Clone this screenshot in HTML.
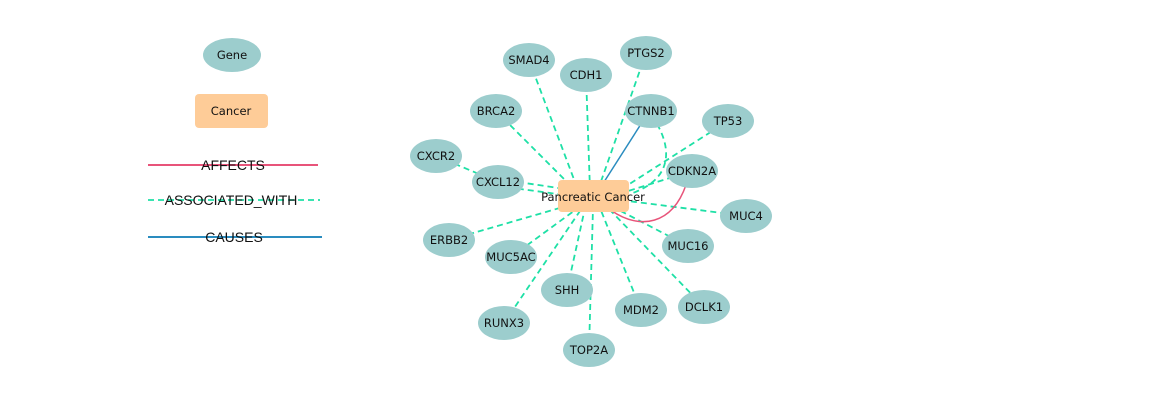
<!DOCTYPE html>
<html><head><meta charset="utf-8"><style>
html,body{margin:0;padding:0;background:#fff;}
svg{display:block;font-family:"DejaVu Sans","Liberation Sans",sans-serif;}
.n{fill:#9ccdcd;}
.t{font-size:11.5px;fill:#111;text-anchor:middle;dominant-baseline:central;}
.d{stroke:#1ee0a6;stroke-width:1.8;stroke-dasharray:6,4;fill:none;}
.lg{font-size:14px;fill:#111;text-anchor:middle;dominant-baseline:central;font-family:"Liberation Sans",sans-serif;}
</style></head><body>
<svg width="1159" height="410" viewBox="0 0 1159 410">
<rect width="1159" height="410" fill="#fff"/>
<ellipse class="n" cx="232" cy="55" rx="29" ry="17"/>
<text class="t" x="232" y="55">Gene</text>
<rect x="195" y="94" width="73" height="34" rx="4" fill="#fecc98"/>
<text class="t" x="231" y="111">Cancer</text>
<line x1="148" y1="165" x2="318" y2="165" stroke="#e8547a" stroke-width="2"/>
<text class="lg" x="233" y="165">AFFECTS</text>
<line x1="148" y1="200" x2="320" y2="200" class="d" stroke-width="2"/>
<text class="lg" x="231" y="200">ASSOCIATED_WITH</text>
<line x1="148" y1="237" x2="322" y2="237" stroke="#2a8cbf" stroke-width="2"/>
<text class="lg" x="234" y="237">CAUSES</text>
<g class="d">
<line x1="529" y1="60" x2="578" y2="190"/>
<line x1="586" y1="75" x2="590" y2="190"/>
<line x1="646" y1="53" x2="598" y2="190"/>
<line x1="496" y1="111" x2="575" y2="190"/>
<line x1="728" y1="121" x2="620" y2="190"/>
<line x1="436" y1="156" x2="498" y2="182"/>
<line x1="498" y1="179" x2="565" y2="189"/>
<line x1="498" y1="186" x2="565" y2="195"/>
<line x1="692" y1="171" x2="625" y2="192"/>
<line x1="746" y1="216" x2="620" y2="200"/>
<line x1="449" y1="240" x2="570" y2="205"/>
<line x1="511" y1="257" x2="578" y2="208"/>
<line x1="688" y1="246" x2="615" y2="208"/>
<line x1="567" y1="290" x2="585" y2="208"/>
<line x1="641" y1="310" x2="600" y2="208"/>
<line x1="704" y1="307" x2="608" y2="208"/>
<line x1="504" y1="323" x2="582" y2="208"/>
<line x1="589" y1="350" x2="593" y2="208"/>
<path d="M657,124 C672,150 672,180 630,194"/>
</g>
<line x1="641" y1="124" x2="604" y2="182" stroke="#2a8cbf" stroke-width="1.5"/>
<path d="M686,185 C672,225 640,230 612,211" stroke="#e8547a" stroke-width="1.5" fill="none"/>
<rect x="558" y="180" width="71" height="32" rx="4" fill="#fecc98"/>
<text class="t" x="593" y="197">Pancreatic Cancer</text>
<g>
<ellipse class="n" cx="529" cy="60" rx="26" ry="17"/><text class="t" x="529" y="60">SMAD4</text>
<ellipse class="n" cx="586" cy="75" rx="26" ry="17"/><text class="t" x="586" y="75">CDH1</text>
<ellipse class="n" cx="646" cy="53" rx="26" ry="17"/><text class="t" x="646" y="53">PTGS2</text>
<ellipse class="n" cx="496" cy="111" rx="26" ry="17"/><text class="t" x="496" y="111">BRCA2</text>
<ellipse class="n" cx="651" cy="111" rx="26" ry="17"/><text class="t" x="651" y="111">CTNNB1</text>
<ellipse class="n" cx="728" cy="121" rx="26" ry="17"/><text class="t" x="728" y="121">TP53</text>
<ellipse class="n" cx="436" cy="156" rx="26" ry="17"/><text class="t" x="436" y="156">CXCR2</text>
<ellipse class="n" cx="498" cy="182" rx="26" ry="17"/><text class="t" x="498" y="182">CXCL12</text>
<ellipse class="n" cx="692" cy="171" rx="26" ry="17"/><text class="t" x="692" y="171">CDKN2A</text>
<ellipse class="n" cx="746" cy="216" rx="26" ry="17"/><text class="t" x="746" y="216">MUC4</text>
<ellipse class="n" cx="449" cy="240" rx="26" ry="17"/><text class="t" x="449" y="240">ERBB2</text>
<ellipse class="n" cx="511" cy="257" rx="26" ry="17"/><text class="t" x="511" y="257">MUC5AC</text>
<ellipse class="n" cx="688" cy="246" rx="26" ry="17"/><text class="t" x="688" y="246">MUC16</text>
<ellipse class="n" cx="567" cy="290" rx="26" ry="17"/><text class="t" x="567" y="290">SHH</text>
<ellipse class="n" cx="641" cy="310" rx="26" ry="17"/><text class="t" x="641" y="310">MDM2</text>
<ellipse class="n" cx="704" cy="307" rx="26" ry="17"/><text class="t" x="704" y="307">DCLK1</text>
<ellipse class="n" cx="504" cy="323" rx="26" ry="17"/><text class="t" x="504" y="323">RUNX3</text>
<ellipse class="n" cx="589" cy="350" rx="26" ry="17"/><text class="t" x="589" y="350">TOP2A</text>
</g>
</svg>
</body></html>
